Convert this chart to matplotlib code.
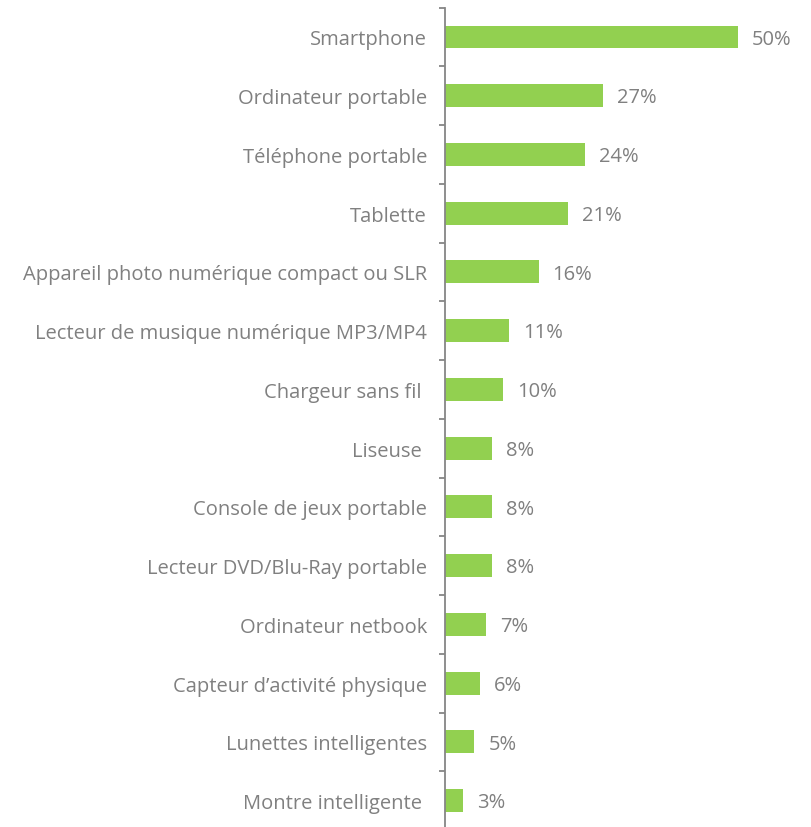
import matplotlib
matplotlib.use("Agg")
import matplotlib.pyplot as plt

categories = [
    "Smartphone",
    "Ordinateur portable",
    "Téléphone portable",
    "Tablette",
    "Appareil photo numérique compact ou SLR",
    "Lecteur de musique numérique MP3/MP4",
    "Chargeur sans fil ",
    "Liseuse ",
    "Console de jeux portable",
    "Lecteur DVD/Blu-Ray portable",
    "Ordinateur netbook",
    "Capteur d\u2019activité physique",
    "Lunettes intelligentes",
    "Montre intelligente ",
]
values = [50, 27, 24, 21, 16, 11, 10, 8, 8, 8, 7, 6, 5, 3]

plt.rcParams['font.family'] = ['Open Sans', 'DejaVu Sans']
fig = plt.figure(figsize=(8.11, 8.28), dpi=100)
ax = fig.add_axes([445/811, -3/828, 1 - 445/811 - 15/811, (831 - 8.6)/828])

gray = "#808080"
y = list(range(len(categories)))
ax.barh(y, values, height=0.39, color="#92D050")
for yi, v in zip(y, values):
    ax.text(v + 2.4, yi + 0.03, f"{v}%", va="center", ha="left", fontsize=14.5, color=gray)

ax.set_ylim(len(categories) - 0.5, -0.5)
ax.set_xlim(0, 60)
ax.set_yticks(y)
ax.set_yticklabels(categories, fontsize=14.5, color=gray)
ax.tick_params(axis='y', which='major', length=0, pad=13)
ax.set_yticks([i + 0.5 for i in range(-1, len(categories))], minor=True)
ax.tick_params(axis='y', which='minor', length=4, width=1.3, color="#868686")
ax.set_xticks([])
for s in ["top", "right", "bottom"]:
    ax.spines[s].set_visible(False)
ax.spines["left"].set_color("#868686")
ax.spines["left"].set_linewidth(1.3)

fig.savefig("out.png", dpi=100)
